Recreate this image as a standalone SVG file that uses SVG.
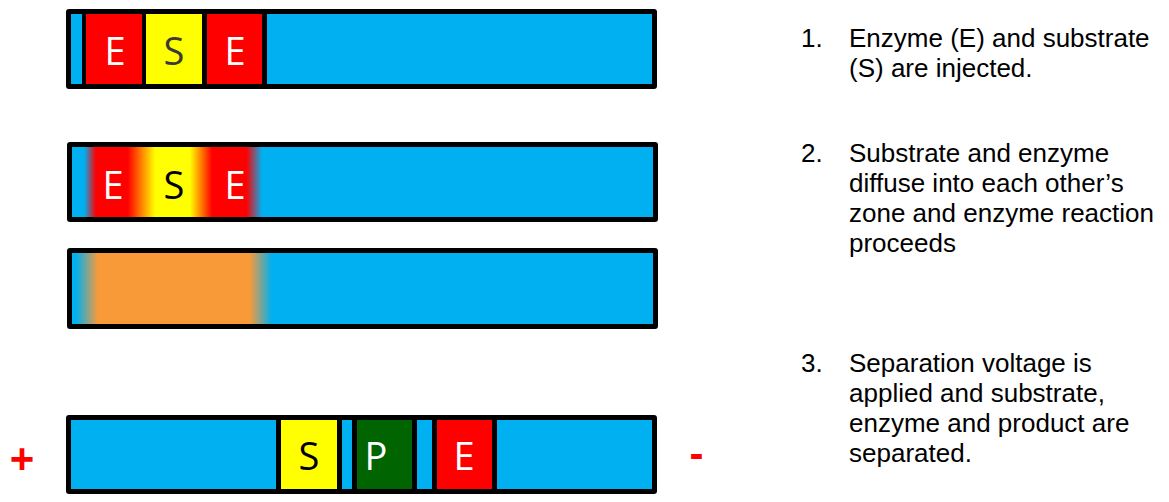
<svg xmlns="http://www.w3.org/2000/svg" width="1169" height="502" viewBox="0 0 1169 502">
<style>
.frame{fill:#000}
.blue{fill:#00B0F0}
.red{fill:#FF0000}
.yel{fill:#FFFF00}
.grn{fill:#006400}
.lbl{font-family:"Open Sans","Liberation Sans",sans-serif;font-size:38px;text-anchor:middle}
.w{fill:#FFFFFF}
.k{fill:#000000}
.dk{fill:#3A3A3A}
.sign{font-family:"Liberation Sans",Arial,sans-serif;font-weight:bold;font-size:42px;fill:#FF0000;text-anchor:middle}
.desc{font-family:"Liberation Sans",Arial,sans-serif;font-size:26px;fill:#000}
</style>
<defs>
<linearGradient id="g2" gradientUnits="userSpaceOnUse" x1="72" y1="0" x2="653" y2="0">
<stop offset="0" stop-color="#00B0F0"/>
<stop offset="0.021" stop-color="#00B0F0"/>
<stop offset="0.041" stop-color="#FF0000"/>
<stop offset="0.096" stop-color="#FF0000"/>
<stop offset="0.143" stop-color="#FFFF00"/>
<stop offset="0.203" stop-color="#FFFF00"/>
<stop offset="0.241" stop-color="#FF0000"/>
<stop offset="0.300" stop-color="#FF0000"/>
<stop offset="0.327" stop-color="#00B0F0"/>
<stop offset="1" stop-color="#00B0F0"/>
</linearGradient>
<linearGradient id="g3" gradientUnits="userSpaceOnUse" x1="72" y1="0" x2="653" y2="0">
<stop offset="0" stop-color="#00B0F0"/>
<stop offset="0.007" stop-color="#00B0F0"/>
<stop offset="0.045" stop-color="#F99A38"/>
<stop offset="0.306" stop-color="#F99A38"/>
<stop offset="0.344" stop-color="#00B0F0"/>
<stop offset="1" stop-color="#00B0F0"/>
</linearGradient>
</defs>

<g id="bar1">
<rect class="frame" x="66" y="9" width="591" height="80" rx="3"/>
<rect class="blue" x="71" y="14" width="11" height="70"/>
<rect class="red" x="86" y="14" width="56" height="70"/>
<rect class="yel" x="146" y="14" width="56" height="70"/>
<rect class="red" x="207" y="14" width="55" height="70"/>
<rect class="blue" x="267" y="14" width="385" height="70"/>
<text class="lbl w" x="115" y="65">E</text>
<text class="lbl dk" x="174" y="65">S</text>
<text class="lbl w" x="235" y="65">E</text>
</g>

<g id="bar2">
<rect class="frame" x="67" y="142" width="591" height="80" rx="3"/>
<rect x="72" y="147" width="581" height="70" fill="url(#g2)"/>
<text class="lbl w" x="113" y="199">E</text>
<text class="lbl k" x="174" y="199">S</text>
<text class="lbl w" x="235" y="199">E</text>
</g>

<g id="bar3">
<rect class="frame" x="67" y="248" width="591" height="81" rx="3"/>
<rect x="72" y="253" width="581" height="71" fill="url(#g3)"/>
</g>

<g id="bar4">
<rect class="frame" x="66" y="415" width="591" height="79" rx="3"/>
<rect class="blue" x="71" y="420" width="205" height="69"/>
<rect class="yel" x="281" y="420" width="56" height="69"/>
<rect class="blue" x="342" y="420" width="10" height="69"/>
<rect class="grn" x="357" y="420" width="55" height="69"/>
<rect class="blue" x="417" y="420" width="15" height="69"/>
<rect class="red" x="437" y="420" width="55" height="69"/>
<rect class="blue" x="497" y="420" width="155" height="69"/>
<text class="lbl k" x="309" y="470">S</text>
<text class="lbl w" x="376" y="470">P</text>
<text class="lbl w" x="464" y="470">E</text>
</g>

<g id="signs">
<text class="sign" x="22" y="473">+</text>
<text class="sign" x="696.5" y="468">-</text>
</g>

<g id="connectors"></g>

<g id="step1" class="desc">
<text x="801" y="47">1.</text>
<text x="849" y="47">Enzyme (E) and substrate</text>
<text x="849" y="77">(S) are injected.</text>
</g>
<g id="step2" class="desc">
<text x="801" y="162">2.</text>
<text x="849" y="162">Substrate and enzyme</text>
<text x="849" y="192">diffuse into each other’s</text>
<text x="849" y="222">zone and enzyme reaction</text>
<text x="849" y="252">proceeds</text>
</g>
<g id="step3" class="desc">
<text x="801" y="372">3.</text>
<text x="849" y="372">Separation voltage is</text>
<text x="849" y="402">applied and substrate,</text>
<text x="849" y="432">enzyme and product are</text>
<text x="849" y="462">separated.</text>
</g>
</svg>
